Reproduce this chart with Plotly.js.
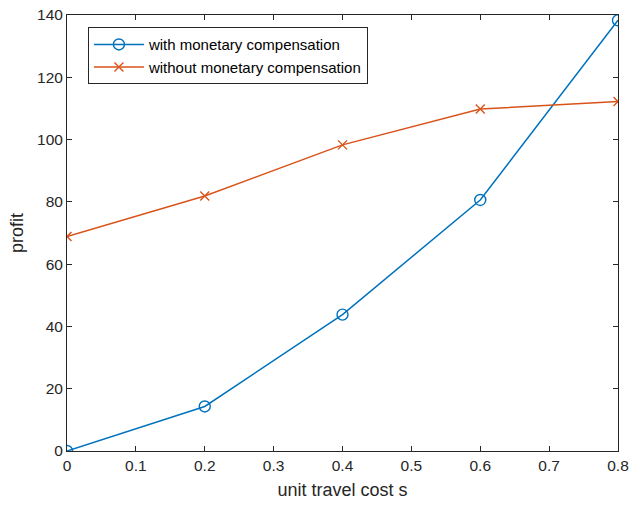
<!DOCTYPE html>
<html><head><meta charset="utf-8">
<script src="https://cdn.plot.ly/plotly-3.0.1.min.js"></script>
<style>html,body{margin:0;padding:0;background:#fff}</style>
</head><body>
<div id="chart" style="width:630px;height:507px"></div>
<script>
const costS = [0, 0.2, 0.4, 0.6, 0.8];
const withComp = [0, 14.3, 43.8, 80.6, 138.3];
const withoutComp = [68.9, 81.9, 98.3, 109.8, 112.2];
const xTicks = [0, 0.1, 0.2, 0.3, 0.4, 0.5, 0.6, 0.7, 0.8];
const yTicks = [0, 20, 40, 60, 80, 100, 120, 140];

const traces = [
  {x: costS, y: withComp, name: 'with monetary compensation', mode: 'lines+markers',
   line: {color: '#0072BD', width: 1.5},
   marker: {symbol: 'circle-open', size: 11, color: '#0072BD', line: {width: 1.4, color: '#0072BD'}}},
  {x: costS, y: withoutComp, name: 'without monetary compensation', mode: 'lines+markers',
   line: {color: '#D95319', width: 1.5},
   marker: {symbol: 'x-thin-open', size: 9, color: '#D95319', line: {width: 1.4, color: '#D95319'}}}
];
const axisBase = {showgrid: false, zeroline: false, showline: true, linecolor: '#262626', linewidth: 1,
  mirror: 'ticks', ticks: 'inside', ticklen: 5, tickcolor: '#262626',
  tickfont: {family: 'Liberation Sans, Arial, sans-serif', size: 15.5, color: '#262626'}};
const layout = {
  width: 630, height: 507,
  margin: {l: 67, r: 12, t: 15, b: 56},
  paper_bgcolor: '#fff', plot_bgcolor: '#fff',
  showlegend: true,
  font: {family: 'Liberation Sans, Arial, sans-serif', color: '#262626'},
  xaxis: Object.assign({}, axisBase, {range: [0, 0.8], tickvals: xTicks, ticktext: xTicks.map(String),
    title: {text: 'unit travel cost s', font: {size: 18, color: '#262626'}, standoff: 10}}),
  yaxis: Object.assign({}, axisBase, {range: [0, 140], tickvals: yTicks, ticktext: yTicks.map(String),
    title: {text: 'profit', font: {size: 18, color: '#262626'}, standoff: 8}}),
  legend: {x: 0.038, y: 0.972, xanchor: 'left', yanchor: 'top', bgcolor: '#fff',
    bordercolor: '#262626', borderwidth: 1, font: {size: 15, color: '#000'},
    tracegroupgap: 0, itemwidth: 50}
};
Plotly.newPlot('chart', traces, layout, {displayModeBar: false});
</script>
</body></html>
